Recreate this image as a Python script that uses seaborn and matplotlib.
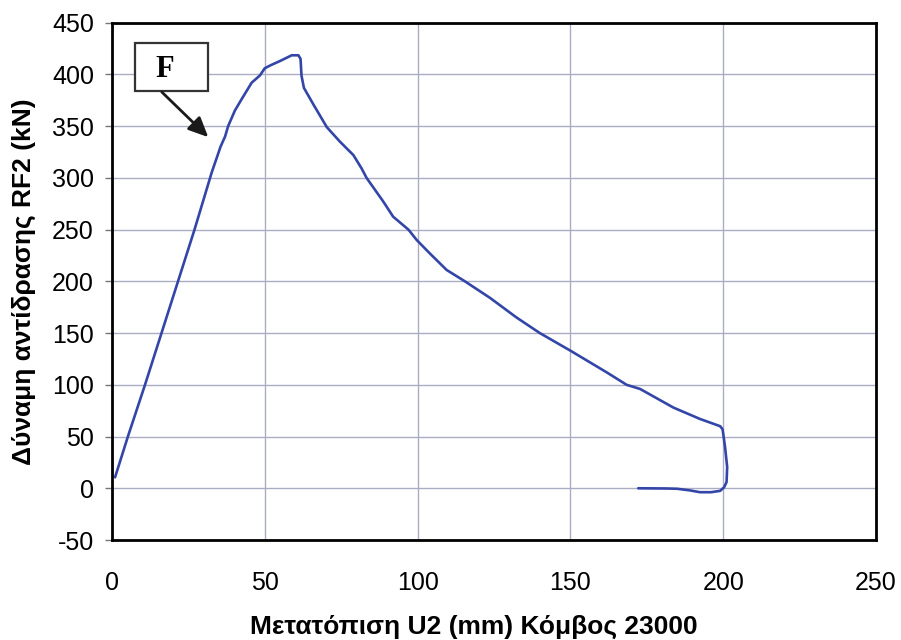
import matplotlib
matplotlib.use("Agg")
import matplotlib.pyplot as plt
from matplotlib.patches import Rectangle
import seaborn as sns
import pandas as pd

# Displacement U2 (mm) at node 23000 and reaction force RF2 (kN)
u2 = [1.0, 5.2, 10.8, 16.2, 21.6, 27.0, 32.6, 35.5, 37.0, 38.0, 40.2, 42.4,
      45.7, 48.4, 50.0, 52.0, 55.0, 58.8, 61.0, 61.7, 62.0, 62.8, 65.9, 70.3,
      74.6, 79.0, 81.7, 83.3, 88.8, 92.0, 97.0, 99.7, 104.0, 109.5, 115.5,
      123.7, 132.4, 140.0, 150.0, 161.9, 168.4, 172.8, 183.7, 192.4, 199.0,
      199.8, 200.6, 201.3, 201.1, 200.3, 199.0, 196.0, 192.4, 189.0, 185.0,
      181.5, 172.2]
rf2 = [10.6, 50.0, 100.0, 150.0, 200.0, 250.0, 305.0, 330.0, 340.0, 350.0,
       365.0, 376.0, 392.0, 399.0, 406.0, 409.0, 413.0, 418.5, 418.5, 415.0,
       399.0, 387.0, 371.0, 349.0, 335.0, 322.0, 309.0, 300.0, 277.0, 262.5,
       250.0, 240.0, 227.0, 211.0, 200.0, 184.0, 165.0, 150.0, 133.0, 112.0,
       100.0, 96.0, 78.0, 67.0, 60.0, 57.0, 40.0, 20.5, 6.0, 1.0, -2.5, -3.8,
       -3.8, -2.0, -0.5, -0.2, 0.0]

x_ticks = [0, 50, 100, 150, 200, 250]
y_ticks = [-50, 0, 50, 100, 150, 200, 250, 300, 350, 400, 450]

x_label = "Μετατόπιση U2 (mm) Κόμβος 23000"
y_label = "Δύναμη αντίδρασης RF2 (kN)"
marker_text = "F"

sns.set_style("white")
plt.rcParams["font.family"] = ["Liberation Sans", "DejaVu Sans"]
plt.rcParams["axes.unicode_minus"] = False
plt.rcParams["text.color"] = "black"
plt.rcParams["axes.labelcolor"] = "black"
plt.rcParams["xtick.color"] = "black"
plt.rcParams["ytick.color"] = "black"

df = pd.DataFrame({"u2": u2, "rf2": rf2})

fig = plt.figure(figsize=(9.01, 6.4), dpi=100)
ax = fig.add_axes([112 / 901, 100 / 640, 764 / 901, 517.3 / 640])

sns.lineplot(data=df, x="u2", y="rf2", sort=False, estimator=None,
             color="#3346a8", linewidth=1.9, ax=ax)

ax.set_xlim(0, 250)
ax.set_ylim(-50, 450)
ax.set_xticks(x_ticks)
ax.set_yticks(y_ticks)
ax.grid(True, color="#a9adc4", linewidth=1.0)
ax.set_axisbelow(True)

for side in ["left", "bottom", "top", "right"]:
    ax.spines[side].set_visible(True)
    ax.spines[side].set_color("black")
    ax.spines[side].set_linewidth(2.0)

ax.tick_params(axis="y", length=5, width=1, color="#777777", pad=8,
               labelsize=18, left=True, labelcolor="black")
ax.tick_params(axis="x", length=0, pad=22, labelsize=18, labelcolor="black")

ax.set_xlabel(x_label, fontsize=19, fontweight="bold")
ax.set_ylabel(y_label, fontsize=19, fontweight="bold")
ax.xaxis.set_label_coords(0.474, -0.145)
ax.yaxis.set_label_coords(-0.1, 0.5)

# Labelled box with an arrow pointing at the loading branch
ax.add_patch(Rectangle((7.5, 384), 24.0, 46, facecolor="white",
                       edgecolor="#333333", linewidth=1.6, zorder=5))
ax.text(17.3, 405, marker_text, fontsize=22, fontweight="bold",
        family="Liberation Serif", ha="center", va="center", zorder=6)
ax.annotate("", xy=(31.5, 339.4), xytext=(16.3, 383),
            arrowprops=dict(arrowstyle="-|>,head_length=1.2,head_width=0.55",
                            color="#1a1a1a", lw=2.0, shrinkA=0, shrinkB=0),
            zorder=6)

fig.savefig("out.png", dpi=100)
